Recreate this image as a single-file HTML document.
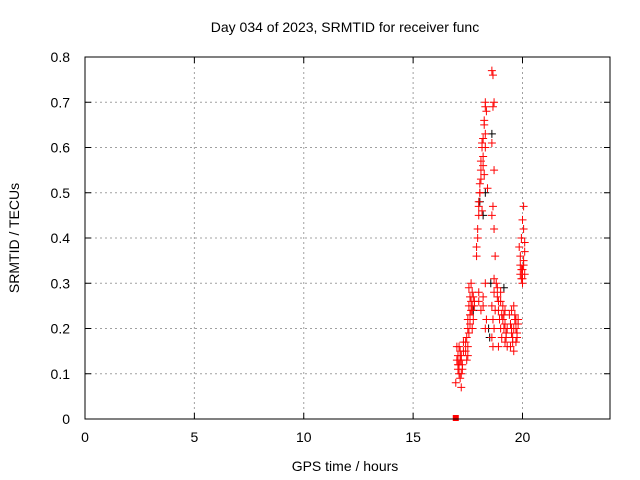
<!DOCTYPE html>
<html><head><meta charset="utf-8"><style>
html,body{margin:0;padding:0;background:#fff}
svg{display:block;font-family:"Liberation Sans",sans-serif}
</style></head><body>
<svg id="chart" width="640" height="480">
<rect width="640" height="480" fill="#fff"/>
<text x="345" y="32" font-size="14" text-anchor="middle">Day 034 of 2023, SRMTID for receiver func</text>
<text x="345" y="471" font-size="14" text-anchor="middle">GPS time / hours</text>
<text transform="translate(19,238) rotate(-90)" font-size="14" text-anchor="middle">SRMTID / TECUs</text>
<g id="grid"></g>
<g id="ticks"></g>
<g id="marks"></g>
<rect x="85" y="57" width="525" height="362" fill="none" stroke="#000" stroke-width="1"/>
</svg>
<script>
const xTicks=[0,5,10,15,20];
const yTicks=[0,0.1,0.2,0.3,0.4,0.5,0.6,0.7,0.8];
const yTickLabels=["0","0.1","0.2","0.3","0.4","0.5","0.6","0.7","0.8"];
const redX=[16.95,17.0,17.05,17.1,17.1,17.15,17.2,17.2,17.25,17.3,17.0,17.05,17.1,17.15,17.2,17.25,17.3,17.05,17.15,17.2,
17.4,17.45,17.5,17.5,17.55,17.6,17.6,17.65,17.7,17.7,17.75,17.8,17.45,17.5,17.55,17.6,17.65,17.7,17.75,17.4,17.5,17.6,17.7,17.8,17.55,17.65,
17.9,17.95,18.0,18.05,18.1,18.15,18.2,18.25,18.3,18.35,17.95,18.0,18.05,18.1,18.15,18.2,18.25,18.3,17.9,18.0,18.1,18.2,18.3,18.0,18.1,18.2,18.3,18.35,18.05,18.15,18.25,18.3,18.4,18.0,18.2,18.3,
18.6,18.65,18.7,18.65,18.6,18.7,18.65,18.6,18.7,18.75,18.7,18.6,18.65,18.7,18.6,18.65,18.7,18.75,
18.8,18.85,18.9,18.95,19.0,19.05,19.1,19.15,19.2,19.25,19.3,18.85,18.9,19.0,19.1,19.2,19.3,18.9,19.05,19.15,19.25,19.0,19.2,
19.4,19.45,19.5,19.55,19.6,19.65,19.7,19.75,19.8,19.45,19.5,19.6,19.7,19.8,19.55,19.65,19.75,19.5,19.6,19.7,
19.85,19.9,19.95,20.0,20.05,20.1,19.9,19.95,20.0,20.05,20.1,19.9,20.0,20.05,20.1,19.95,20.0,20.05];
const redY=[0.08,0.16,0.14,0.12,0.1,0.15,0.13,0.07,0.11,0.17,0.13,0.12,0.16,0.09,0.14,0.12,0.15,0.11,0.13,0.1,
0.15,0.18,0.2,0.22,0.25,0.27,0.23,0.26,0.24,0.28,0.22,0.26,0.13,0.16,0.19,0.21,0.3,0.25,0.27,0.17,0.14,0.23,0.2,0.25,0.29,0.24,
0.36,0.4,0.45,0.5,0.55,0.6,0.62,0.66,0.7,0.68,0.42,0.47,0.52,0.57,0.61,0.56,0.65,0.69,0.38,0.48,0.53,0.58,0.63,0.26,0.24,0.27,0.3,0.22,0.5,0.46,0.54,0.6,0.51,0.28,0.25,0.2,
0.77,0.76,0.7,0.69,0.61,0.55,0.47,0.45,0.42,0.36,0.31,0.25,0.22,0.2,0.18,0.16,0.28,0.24,
0.3,0.27,0.24,0.22,0.2,0.18,0.25,0.23,0.21,0.19,0.16,0.29,0.26,0.28,0.22,0.17,0.2,0.16,0.23,0.2,0.18,0.26,0.24,
0.23,0.21,0.19,0.17,0.25,0.22,0.2,0.18,0.22,0.16,0.24,0.2,0.17,0.21,0.18,0.23,0.19,0.2,0.15,0.22,
0.38,0.36,0.33,0.31,0.35,0.32,0.34,0.4,0.3,0.42,0.39,0.32,0.44,0.47,0.37,0.31,0.33,0.34];
const blackX=[17.6,17.75,18.05,18.2,18.3,18.45,18.5,18.55,18.6,19.15,19.25];
const blackY=[0.21,0.24,0.48,0.45,0.5,0.2,0.18,0.3,0.63,0.29,0.19];
const sqX=[16.95];
const sqY=[0.0];
const NS="http://www.w3.org/2000/svg";
const X=v=>85+v*(525/24);
const Y=v=>419-v*(362/0.8);
const grid=document.getElementById('grid'),ticks=document.getElementById('ticks'),marks=document.getElementById('marks');
function mk(t,a,p){const e=document.createElementNS(NS,t);for(const k in a)e.setAttribute(k,a[k]);p.appendChild(e);return e;}
xTicks.forEach(v=>{
 if(v>0){const l=mk('line',{x1:X(v),x2:X(v),y1:57,y2:419,stroke:'#a0a0a0','stroke-dasharray':'2,3'},grid);
 
 }
 mk('line',{x1:X(v),x2:X(v),y1:419,y2:413,stroke:'#000'},ticks);
 mk('line',{x1:X(v),x2:X(v),y1:57,y2:63,stroke:'#000'},ticks);
 const t=mk('text',{x:X(v),y:442,'font-size':14,'text-anchor':'middle'},ticks);t.textContent=v;
 
 
});
yTicks.forEach((v,i)=>{
 if(v>0&&v<0.8){const l=mk('line',{x1:85,x2:610,y1:Y(v),y2:Y(v),stroke:'#a0a0a0','stroke-dasharray':'2,3'},grid);
 
 }
 mk('line',{x1:85,x2:91,y1:Y(v),y2:Y(v),stroke:'#000'},ticks);
 mk('line',{x1:610,x2:604,y1:Y(v),y2:Y(v),stroke:'#000'},ticks);
 const t=mk('text',{x:70,y:Y(v)+5,'font-size':14,'text-anchor':'end'},ticks);t.textContent=yTickLabels[i];
 
 
});
function plus(x,y,c){const p=mk('path',{d:`M${x-4},${y}h8M${x},${y-4}v8`,stroke:c,'stroke-width':1,fill:'none'},marks);return p;}
blackX.forEach((v,i)=>{const p=plus(X(v),Y(blackY[i]),'#000');
 
 });
redX.forEach((v,i)=>{const p=plus(X(v),Y(redY[i]),'#f00');
 
 });
sqX.forEach((v,i)=>{const r=mk('rect',{x:X(v)-3,y:Y(sqY[i])-4,width:6,height:6,fill:'#f00'},marks);
 
 });
</script>
</body></html>
